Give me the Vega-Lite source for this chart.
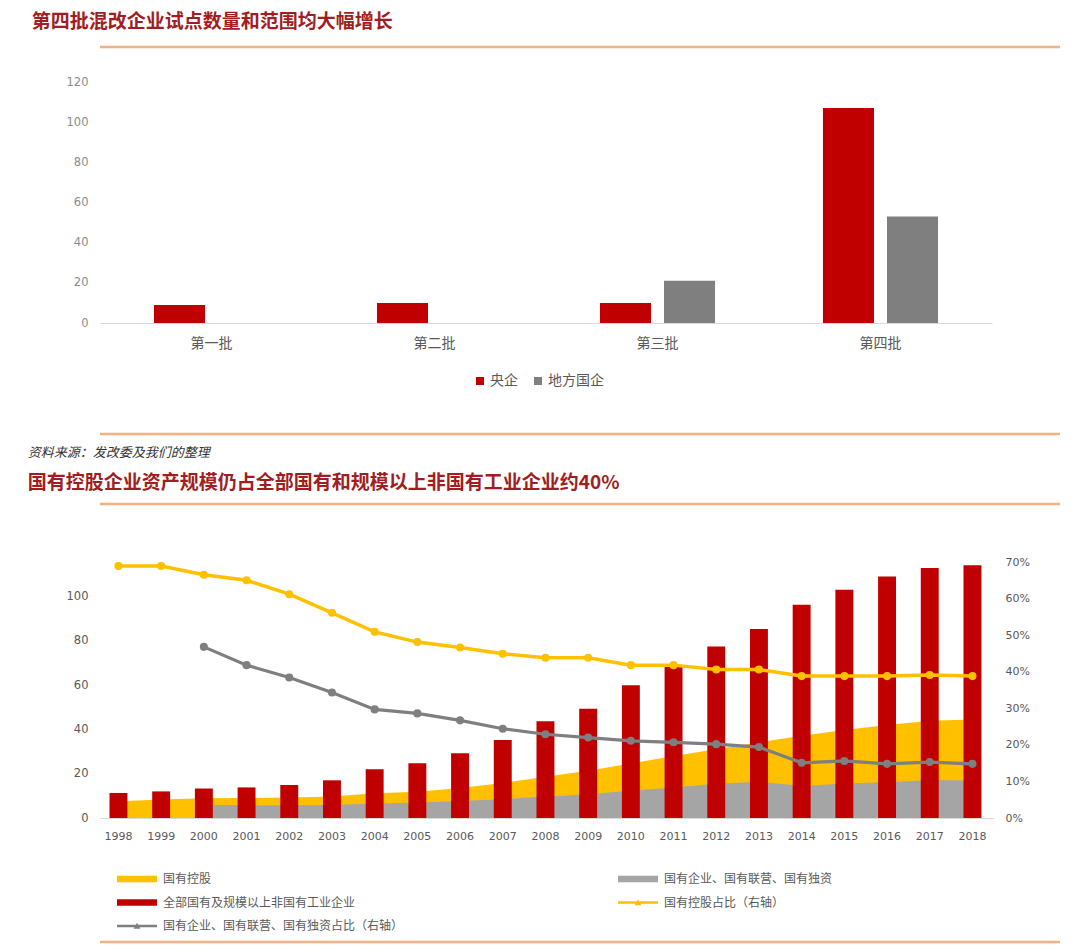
{
  "$schema": "https://vega.github.io/schema/vega-lite/v6.json",
  "padding": {"left": 25, "top": 12, "right": 0, "bottom": 0},
  "background": "white",
  "config": {
    "font": "Noto Sans CJK SC",
    "view": {"stroke": null}
  },
  "spacing": 0,
  "resolve": {"scale": {"color": "independent"}, "legend": {"color": "independent"}},
  "vconcat": [
    {
      "width": 960,
      "height": 29,
      "title": {"text": "第四批混改企业试点数量和范围均大幅增长", "anchor": "start", "dx": -67, "offset": 14, "fontSize": 19, "fontWeight": "bold", "color": "#a11d21", "font": "Noto Sans CJK SC"},
      "data": {"values": [{"pos": 1}]},
      "mark": {"type": "rule", "stroke": "#f4b183", "strokeWidth": 2.5},
      "encoding": {"y": {"field": "pos", "type": "quantitative", "scale": {"domain": [0, 1]}, "axis": null}}
    },
    {
      "width": 892,
      "height": 241,
      "data": {"values": [
        {"batch": "第一批", "type": "央企", "n": 9},
        {"batch": "第二批", "type": "央企", "n": 10},
        {"batch": "第三批", "type": "央企", "n": 10},
        {"batch": "第三批", "type": "地方国企", "n": 21},
        {"batch": "第四批", "type": "央企", "n": 107},
        {"batch": "第四批", "type": "地方国企", "n": 53}
      ]},
      "mark": {"type": "bar", "opacity": 1},
      "encoding": {
        "x": {"field": "batch", "type": "nominal", "sort": ["第一批", "第二批", "第三批", "第四批"], "scale": {"paddingInner": 0.484, "paddingOuter": 0.242},
          "axis": {"title": null, "labelAngle": 0, "ticks": false, "tickSize": 0, "domainColor": "#d9d9d9", "domainWidth": 1, "labelColor": "#595959", "labelFontSize": 14, "labelPadding": 13}},
        "xOffset": {"field": "type", "type": "nominal", "sort": ["央企", "地方国企"], "scale": {"paddingInner": 0.203, "paddingOuter": 0}},
        "y": {"field": "n", "type": "quantitative", "scale": {"domain": [0, 120], "nice": false},
          "axis": {"title": null, "values": [0, 20, 40, 60, 80, 100, 120], "grid": false, "domain": false, "ticks": false, "tickSize": 0, "labelColor": "#8c8c8c", "labelFont": "DejaVu Sans", "labelFontSize": 11.5, "labelPadding": 12, "minExtent": 75}},
        "color": {"field": "type", "type": "nominal", "scale": {"domain": ["央企", "地方国企"], "range": ["#c00000", "#7f7f7f"]},
          "legend": {"title": null, "orient": "none", "direction": "horizontal", "legendX": 329, "legendY": 248, "padding": 44, "symbolType": "square", "symbolSize": 64, "labelFontSize": 14, "labelColor": "#595959", "labelOffset": 3, "columnPadding": 13}}
      }
    },
    {
      "width": 960,
      "height": 12,
      "data": {"values": [{"pos": 1}]},
      "mark": {"type": "rule", "stroke": "#f4b183", "strokeWidth": 2.5},
      "encoding": {"y": {"field": "pos", "type": "quantitative", "scale": {"domain": [0, 1]}, "axis": null}}
    },
    {
      "width": 960,
      "height": 52,
      "title": {"text": "资料来源：发改委及我们的整理", "subtitle": "国有控股企业资产规模仍占全部国有和规模以上非国有工业企业约40%", "anchor": "start", "dx": -71, "offset": 10,
        "fontSize": 13, "fontStyle": "italic", "fontWeight": "normal", "color": "#333333", "font": "Noto Sans CJK SC",
        "subtitleFont": "Noto Sans CJK SC", "subtitleFontSize": 19, "subtitleFontWeight": "bold", "subtitleColor": "#a11d21", "subtitlePadding": 14},
      "data": {"values": [{"pos": 1}]},
      "mark": {"type": "rule", "stroke": "#f4b183", "strokeWidth": 2.5},
      "encoding": {"y": {"field": "pos", "type": "quantitative", "scale": {"domain": [0, 1]}, "axis": null}}
    },
    {
      "width": 894,
      "height": 256,
      "data": {"values": [
        {"year": "1998", "total": 11.3, "sh": 7.6, "soe": null, "shr": 0.689, "soer": null},
        {"year": "1999", "total": 12.0, "sh": 8.3, "soe": null, "shr": 0.689, "soer": null},
        {"year": "2000", "total": 13.3, "sh": 8.9, "soe": 6.0, "shr": 0.665, "soer": 0.468},
        {"year": "2001", "total": 13.8, "sh": 9.0, "soe": 5.8, "shr": 0.650, "soer": 0.418},
        {"year": "2002", "total": 14.9, "sh": 9.3, "soe": 5.8, "shr": 0.612, "soer": 0.384},
        {"year": "2003", "total": 17.0, "sh": 9.7, "soe": 5.9, "shr": 0.561, "soer": 0.343},
        {"year": "2004", "total": 22.0, "sh": 11.2, "soe": 6.5, "shr": 0.509, "soer": 0.297},
        {"year": "2005", "total": 24.7, "sh": 11.8, "soe": 7.0, "shr": 0.481, "soer": 0.286},
        {"year": "2006", "total": 29.2, "sh": 13.5, "soe": 7.7, "shr": 0.466, "soer": 0.267},
        {"year": "2007", "total": 35.2, "sh": 15.8, "soe": 8.5, "shr": 0.449, "soer": 0.244},
        {"year": "2008", "total": 43.6, "sh": 18.6, "soe": 9.7, "shr": 0.438, "soer": 0.229},
        {"year": "2009", "total": 49.3, "sh": 21.3, "soe": 10.7, "shr": 0.438, "soer": 0.220},
        {"year": "2010", "total": 59.9, "sh": 24.6, "soe": 12.3, "shr": 0.418, "soer": 0.211},
        {"year": "2011", "total": 68.4, "sh": 28.0, "soe": 13.8, "shr": 0.418, "soer": 0.207},
        {"year": "2012", "total": 77.4, "sh": 31.0, "soe": 15.5, "shr": 0.406, "soer": 0.202},
        {"year": "2013", "total": 85.3, "sh": 34.2, "soe": 16.4, "shr": 0.406, "soer": 0.194},
        {"year": "2014", "total": 96.2, "sh": 37.1, "soe": 14.4, "shr": 0.388, "soer": 0.151},
        {"year": "2015", "total": 103.0, "sh": 39.7, "soe": 15.6, "shr": 0.388, "soer": 0.156},
        {"year": "2016", "total": 109.0, "sh": 42.0, "soe": 16.1, "shr": 0.388, "soer": 0.148},
        {"year": "2017", "total": 112.8, "sh": 43.9, "soe": 17.1, "shr": 0.391, "soer": 0.153},
        {"year": "2018", "total": 114.0, "sh": 44.4, "soe": 16.9, "shr": 0.388, "soer": 0.148}
      ]},
      "encoding": {
        "x": {"field": "year", "type": "ordinal", "scale": {"paddingInner": 0.58, "paddingOuter": 0.2585, "align": 0.43},
          "axis": {"title": null, "labelAngle": 0, "ticks": false, "tickSize": 0, "domainColor": "#d9d9d9", "labelColor": "#595959", "labelFont": "DejaVu Sans", "labelFontSize": 11, "labelPadding": 12}}
      },
      "layer": [
        {
          "layer": [
            {
              "mark": {"type": "area", "opacity": 1},
              "encoding": {
                "x": {"field": "year", "type": "ordinal", "bandPosition": 0.5},
                "y": {"field": "sh", "type": "quantitative", "scale": {"domain": [0, 115.5], "nice": false},
                  "axis": {"orient": "left", "title": null, "values": [0, 20, 40, 60, 80, 100], "grid": false, "domain": false, "ticks": false, "tickSize": 0, "labelColor": "#595959", "labelFont": "DejaVu Sans", "labelFontSize": 11.5, "labelPadding": 12, "labelOverlap": false}},
                "color": {"datum": "国有控股", "type": "nominal",
                  "scale": {"domain": ["国有控股", "国有企业、国有联营、国有独资", "全部国有及规模以上非国有工业企业", "国有控股占比（右轴）", "国有企业、国有联营、国有独资占比（右轴）"],
                    "range": ["#ffc000", "#a5a5a5", "#c00000", "#ffc000", "#7f7f7f"]},
                  "legend": {"title": null, "orient": "none", "direction": "horizontal", "legendX": 17, "legendY": 309, "columns": 2, "columnPadding": 214, "rowPadding": 7.5, "symbolSize": 1600, "clipHeight": 16, "symbolStrokeWidth": 0,
                    "symbolType": {"expr": "indexof(datum.value, '占比') >= 0 ? 'M-1,-0.06L1,-0.06L1,0.06L-1,0.06ZM-0.17,0.14L0,-0.16L0.17,0.14Z' : 'M-1,-0.16L1,-0.16L1,0.16L-1,0.16Z'"},
                    "labelFontSize": 12, "labelColor": "#595959", "labelOffset": 6, "labelLimit": 400}}
              }
            },
            {
              "mark": {"type": "area", "opacity": 1},
              "encoding": {
                "x": {"field": "year", "type": "ordinal", "bandPosition": 0.5},
                "y": {"field": "soe", "type": "quantitative"},
                "color": {"datum": "国有企业、国有联营、国有独资", "type": "nominal"}
              }
            },
            {
              "mark": {"type": "bar", "opacity": 1},
              "encoding": {
                "x": {"field": "year", "type": "ordinal"},
                "y": {"field": "total", "type": "quantitative"},
                "color": {"datum": "全部国有及规模以上非国有工业企业", "type": "nominal"}
              }
            }
          ]
        },
        {
          "layer": [
            {
              "mark": {"type": "line", "strokeWidth": 3.5, "opacity": 1, "point": {"filled": true, "size": 65, "opacity": 1}},
              "encoding": {
                "x": {"field": "year", "type": "ordinal", "bandPosition": 0.5},
                "y": {"field": "shr", "type": "quantitative", "scale": {"domain": [0, 0.7], "nice": false},
                  "axis": {"orient": "right", "title": null, "values": [0, 0.1, 0.2, 0.3, 0.4, 0.5, 0.6, 0.7], "format": ".0%", "grid": false, "domain": false, "ticks": false, "tickSize": 0, "labelColor": "#595959", "labelFont": "DejaVu Sans", "labelFontSize": 11, "labelPadding": 11, "labelOverlap": false, "labelBound": false}},
                "color": {"datum": "国有控股占比（右轴）", "type": "nominal"}
              }
            },
            {
              "mark": {"type": "line", "strokeWidth": 3.2, "opacity": 1, "point": {"filled": true, "size": 65, "opacity": 1}},
              "encoding": {
                "x": {"field": "year", "type": "ordinal", "bandPosition": 0.5},
                "y": {"field": "soer", "type": "quantitative",
                  "axis": {"orient": "right", "title": null, "values": [0, 0.1, 0.2, 0.3, 0.4, 0.5, 0.6, 0.7], "format": ".0%", "grid": false, "domain": false, "ticks": false, "tickSize": 0, "labelColor": "#595959", "labelFont": "DejaVu Sans", "labelFontSize": 11, "labelPadding": 11, "labelOverlap": false, "labelBound": false}},
                "color": {"datum": "国有企业、国有联营、国有独资占比（右轴）", "type": "nominal"}
              }
            }
          ]
        }
      ],
      "resolve": {"scale": {"y": "independent"}}
    },
    {
      "width": 960,
      "height": 8,
      "data": {"values": [{"pos": 0}]},
      "mark": {"type": "rule", "stroke": "#f4b183", "strokeWidth": 2.5},
      "encoding": {"y": {"field": "pos", "type": "quantitative", "scale": {"domain": [0, 1]}, "axis": null}}
    }
  ]
}
